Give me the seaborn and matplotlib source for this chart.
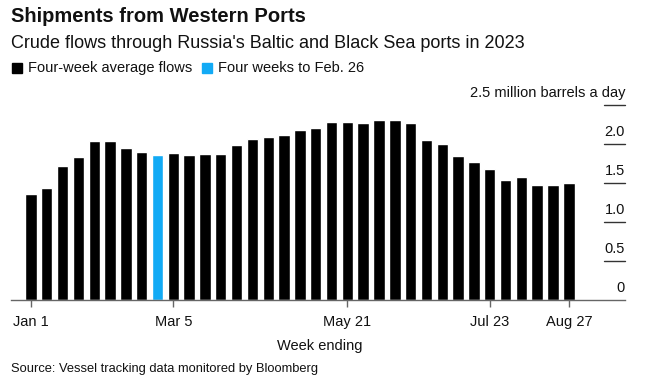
import pandas as pd
import numpy as np
import seaborn as sns
import matplotlib.pyplot as plt
import matplotlib.transforms as mtransforms

# weekly values (million barrels a day)
weeks = pd.date_range('2023-01-01', '2023-08-27', freq='7D')
flows = [1.36, 1.43, 1.72, 1.83, 2.04, 2.04, 1.95, 1.90, 1.86, 1.89,
         1.86, 1.87, 1.87, 1.99, 2.06, 2.09, 2.12, 2.18, 2.21, 2.28,
         2.28, 2.27, 2.31, 2.31, 2.27, 2.05, 2.00, 1.84, 1.77, 1.68,
         1.54, 1.58, 1.48, 1.48, 1.50]
highlight_week = '2023-02-26'
tick_weeks = ['2023-01-01', '2023-03-05', '2023-05-21', '2023-07-23', '2023-08-27']
tick_labels = ['Jan 1', 'Mar 5', 'May 21', 'Jul 23', 'Aug 27']
y_ticks = [0, 0.5, 1.0, 1.5, 2.0, 2.5]
y_labels = ['0', '0.5', '1.0', '1.5', '2.0', '2.5 million barrels a day']

black = '#000000'
blue = '#12aaf5'

df = pd.DataFrame({'week': weeks.strftime('%Y-%m-%d'), 'flow': flows})
df['group'] = np.where(df['week'] == highlight_week, 'hl', 'avg')

sns.set_style('white')
plt.rcParams['font.family'] = ['Liberation Sans', 'DejaVu Sans']

fig = plt.figure(figsize=(6.61, 3.89), dpi=100)
ax = fig.add_axes([11 / 661, 1 - 300 / 389, (625 - 11) / 661, (300 - 105) / 389])

sns.barplot(data=df, x='week', y='flow', hue='group', order=list(df['week']),
            palette={'avg': black, 'hl': blue}, dodge=False, width=0.72,
            legend=False, ax=ax, saturation=1)

ax.set_xlim(-1.26, 37.55)
ax.set_ylim(0, 2.5)
for s in ['top', 'left', 'right']:
    ax.spines[s].set_visible(False)
ax.spines['bottom'].set_color('#666666')
ax.spines['bottom'].set_linewidth(1)

pos = [list(df['week']).index(w) for w in tick_weeks]
ax.set_xticks(pos)
ax.set_xticklabels(tick_labels, fontsize=10.5, color='#111111')
ax.tick_params(axis='x', length=5, width=1, color='#666666', pad=6, bottom=True)
ax.set_yticks([])
ax.set_xlabel('Week ending', fontsize=10.5, color='#111111')
ax.set_ylabel('')
ax.xaxis.set_label_coords((320 - 11) / 614, -(346 - 300) / 195, transform=ax.transAxes)
ax.xaxis.label.set_va('center')

# y tick marks and labels on the right, labels sitting above the marks
trans = mtransforms.blended_transform_factory(ax.transAxes, ax.transData)
for v, lab in zip(y_ticks, y_labels):
    if v > 0:
        ax.plot([1 - 21 / 614, 1.0], [v, v], transform=trans, color='#333333',
                lw=1, clip_on=False)
    ax.annotate(lab, xy=(1.0, v), xycoords=trans, xytext=(0, 3.5),
                textcoords='offset points', ha='right', va='bottom',
                fontsize=10.5, color='#111111', annotation_clip=False)

# titles and legend
fig.text(11 / 661, 1 - 17 / 389, 'Shipments from Western Ports', fontsize=14.5,
         fontweight='bold', va='center', ha='left', color='#111111')
fig.text(11 / 661, 1 - 44 / 389,
         "Crude flows through Russia's Baltic and Black Sea ports in 2023",
         fontsize=13, va='center', ha='left', color='#111111')
for x0, col, lab in [(12, black, 'Four-week average flows'),
                     (202, blue, 'Four weeks to Feb. 26')]:
    fig.patches.append(plt.Rectangle((x0 / 661, 1 - 73 / 389), 10 / 661, 10 / 389,
                                     transform=fig.transFigure, color=col))
    fig.text((x0 + 16) / 661, 1 - 68 / 389, lab, fontsize=10.5, va='center',
             ha='left', color='#111111')

fig.text(11 / 661, 1 - 369 / 389, 'Source: Vessel tracking data monitored by Bloomberg',
         fontsize=9.3, va='center', ha='left', color='#111111')

fig.savefig('out.png', dpi=100)
